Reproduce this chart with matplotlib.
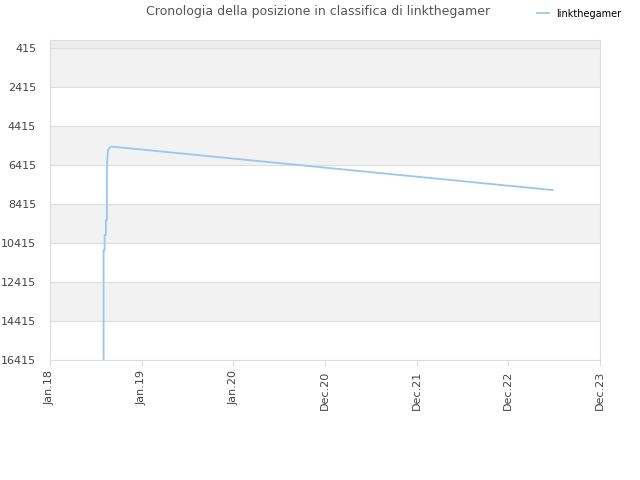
import numpy as np
import matplotlib
matplotlib.use('Agg')
import matplotlib.pyplot as plt
import matplotlib.dates as mdates
from datetime import datetime

# data
dates = ['2018-08-09', '2018-08-09', '2018-08-13', '2018-08-13', '2018-08-18',
         '2018-08-18', '2018-08-22', '2018-08-22', '2018-08-26', '2018-09-03',
         '2018-09-11', '2023-06-11']
ranks = [16900, 10770, 10770, 10000, 10000, 9235, 9235, 6517, 5646, 5500,
         5470, 7697]
player = 'linkthegamer'
tick_labels = ['Jan.18', 'Jan.19', 'Jan.20', 'Dec.20', 'Dec.21', 'Dec.22', 'Dec.23']
yticks = [415, 2415, 4415, 6415, 8415, 10415, 12415, 14415, 16415]

x = [mdates.date2num(datetime.strptime(d, '%Y-%m-%d')) for d in dates]
x0 = mdates.date2num(datetime(2018, 1, 10))
x1 = mdates.date2num(datetime(2023, 12, 15))

fig = plt.figure(figsize=(6.4, 4.8), dpi=100)
ax = fig.add_axes([50/640, 1-360/480, 550/640, 320/480])

# bande grigie
ax.axhspan(0, 415, color='#ececec', lw=0, zorder=0)
for i in range(0, len(yticks)-1, 2):
    ax.axhspan(yticks[i], yticks[i+1], color='#f2f2f2', lw=0, zorder=0)

ax.plot(x, ranks, color='#99c7f3', lw=1.3, label=player, zorder=3)

ax.set_xlim(x0, x1)
ax.set_ylim(16415, 0)
ax.set_yticks(yticks)
ax.set_yticklabels([str(v) for v in yticks])
ax.set_xticks(np.linspace(x0, x1, len(tick_labels)))
ax.set_xticklabels(tick_labels, rotation=90)

ax.grid(axis='y', color='#dddddd', lw=0.8, zorder=1)
ax.set_axisbelow(True)
for s in ax.spines.values():
    s.set_color('#dddddd')
ax.tick_params(axis='both', colors='#dddddd', labelcolor='#444444', labelsize=8, length=4)
ax.tick_params(axis='y', length=0, pad=10)

fig.text(0.497, 0.975, 'Cronologia della posizione in classifica di ' + player,
         ha='center', va='center', fontsize=9, color='#555555')
fig.legend(loc='upper right', bbox_to_anchor=(0.985, 1.0), frameon=False,
           fontsize=7, handlelength=1.2, handletextpad=0.8)

plt.savefig('out.png')
plt.close()
